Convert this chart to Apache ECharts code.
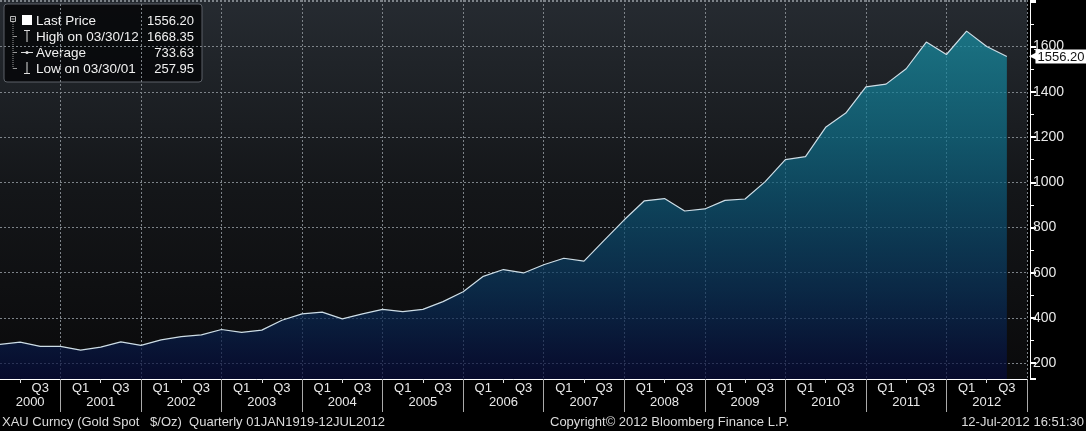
<!DOCTYPE html>
<html><head><meta charset="utf-8">
<script src="https://cdn.jsdelivr.net/npm/echarts@6/dist/echarts.min.js"></script>
<style>html,body{margin:0;padding:0;background:#000;}#c{width:1086px;height:431px;}</style>
</head><body><div id="c"></div>
<script>
const quarters = [
'2000 Q1','2000 Q2','2000 Q3','2000 Q4',
'2001 Q1','2001 Q2','2001 Q3','2001 Q4',
'2002 Q1','2002 Q2','2002 Q3','2002 Q4',
'2003 Q1','2003 Q2','2003 Q3','2003 Q4',
'2004 Q1','2004 Q2','2004 Q3','2004 Q4',
'2005 Q1','2005 Q2','2005 Q3','2005 Q4',
'2006 Q1','2006 Q2','2006 Q3','2006 Q4',
'2007 Q1','2007 Q2','2007 Q3','2007 Q4',
'2008 Q1','2008 Q2','2008 Q3','2008 Q4',
'2009 Q1','2009 Q2','2009 Q3','2009 Q4',
'2010 Q1','2010 Q2','2010 Q3','2010 Q4',
'2011 Q1','2011 Q2','2011 Q3','2011 Q4',
'2012 Q1','2012 Q2','2012 Q3','2012 Q4'];
const prices = [
283, 293, 274, 274,
257.95, 271, 294, 279,
303, 317, 325, 349,
336, 346, 390, 418,
426, 396, 418, 438,
428, 438, 472, 516,
584, 614, 599, 635,
664, 651, 743, 834,
918, 928, 873, 882,
920, 926, 1003, 1100,
1113, 1243, 1306, 1422,
1434, 1502, 1620, 1565,
1668.35, 1600, 1556.2, null];
const yMin = 130, yMax = 1806;
const yLabelMax = 1600;
const legendLabels = ['Last Price', 'High on 03/30/12', 'Average', 'Low on 03/30/01'];
const legendValues = ['1556.20', '1668.35', '733.63', '257.95'];
const footerLeft = 'XAU Curncy (Gold Spot   $/Oz)  Quarterly 01JAN1919-12JUL2012';
const footerMid = 'Copyright\u00a9 2012 Bloomberg Finance L.P.';
const footerRight = '12-Jul-2012 16:51:30';

const lastPrice = prices.filter(v => v != null).slice(-1)[0];
const FONT = 'Liberation Sans, Arial, sans-serif';
const TXT = '#e8e8e8';

const chart = echarts.init(document.getElementById('c'), null, {renderer: 'canvas'});

const legendChildren = [
  {type: 'rect', shape: {x: 4, y: 4, width: 198, height: 78, r: 3},
   style: {fill: 'rgba(8,9,11,0.92)', stroke: '#5c6168', lineWidth: 1}},
  {type: 'rect', shape: {x: 10.5, y: 16.5, width: 5, height: 5}, style: {fill: 'none', stroke: '#bbb', lineWidth: 1}},
  {type: 'line', shape: {x1: 11.5, y1: 19, x2: 14.5, y2: 19}, style: {stroke: '#bbb', lineWidth: 1}},
  {type: 'line', shape: {x1: 13, y1: 22, x2: 13, y2: 68.5}, style: {stroke: '#999', lineWidth: 1, lineDash: [1, 1]}},
  {type: 'line', shape: {x1: 13, y1: 36.5, x2: 17, y2: 36.5}, style: {stroke: '#999', lineWidth: 1}},
  {type: 'line', shape: {x1: 13, y1: 52.5, x2: 17, y2: 52.5}, style: {stroke: '#999', lineWidth: 1}},
  {type: 'line', shape: {x1: 13, y1: 68.5, x2: 17, y2: 68.5}, style: {stroke: '#999', lineWidth: 1}},
  {type: 'rect', shape: {x: 22, y: 15, width: 10, height: 10}, style: {fill: '#fff'}},
  {type: 'line', shape: {x1: 24, y1: 30.5, x2: 30, y2: 30.5}, style: {stroke: '#ddd', lineWidth: 1}},
  {type: 'line', shape: {x1: 27, y1: 30.5, x2: 27, y2: 42}, style: {stroke: '#ddd', lineWidth: 1}},
  {type: 'line', shape: {x1: 21, y1: 52.5, x2: 33, y2: 52.5}, style: {stroke: '#ddd', lineWidth: 1}},
  {type: 'circle', shape: {cx: 27, cy: 52.5, r: 1.6}, style: {fill: '#ddd'}},
  {type: 'line', shape: {x1: 27, y1: 62, x2: 27, y2: 73.5}, style: {stroke: '#ddd', lineWidth: 1}},
  {type: 'line', shape: {x1: 24, y1: 73.5, x2: 30, y2: 73.5}, style: {stroke: '#ddd', lineWidth: 1}}
];
legendLabels.forEach((t, i) => {
  legendChildren.push({type: 'text', x: 36, y: 21 + 16 * i,
    style: {text: t, fill: '#f0f0f0', font: '13.5px ' + FONT, textVerticalAlign: 'middle'}});
  legendChildren.push({type: 'text', x: 194, y: 21 + 16 * i,
    style: {text: legendValues[i], fill: '#f0f0f0', font: '13px ' + FONT, textAlign: 'right', textVerticalAlign: 'middle'}});
});

const option = {
  backgroundColor: '#000',
  animation: false,
  grid: {left: 0, right: 59, top: 0, bottom: 52, show: true, borderWidth: 0,
    backgroundColor: new echarts.graphic.LinearGradient(0, 0, 0, 1, [
      {offset: 0, color: '#262b31'}, {offset: 0.5, color: '#141619'}, {offset: 1, color: '#0a0a0b'}])},
  xAxis: [
    {type: 'category', data: quarters, boundaryGap: false, position: 'bottom',
     axisLine: {show: true, lineStyle: {color: '#ffffff', width: 1}},
     axisTick: {show: true, length: 4, interval: (i, v) => v.endsWith('Q2'), lineStyle: {color: '#dddddd'}},
     axisLabel: {show: true, interval: (i, v) => i > 0 && (v.endsWith('Q1') || v.endsWith('Q3')),
       formatter: v => v.slice(5), color: TXT, fontSize: 13, fontFamily: FONT, margin: 3},
     splitLine: {show: false}},
    {type: 'category', data: quarters, boundaryGap: false, position: 'bottom',
     axisLine: {show: false},
     axisTick: {show: true, length: 33, interval: (i, v) => v.endsWith('Q4'), lineStyle: {color: '#aaaaaa'}},
     axisLabel: {show: true, interval: (i, v) => v.endsWith('Q2'),
       formatter: v => v.startsWith('2000') ? '{s|' + v.slice(0, 4) + '}' : v.slice(0, 4),
       rich: {s: {padding: [0, 0, 0, 20], color: TXT, fontSize: 13, fontFamily: FONT}},
       color: TXT, fontSize: 13, fontFamily: FONT, margin: 17},
     splitLine: {show: true, interval: (i, v) => v.endsWith('Q4'),
       lineStyle: {color: '#7d8389', width: 1, type: [2, 2]}}}
  ],
  yAxis: {type: 'value', position: 'right', min: yMin, max: yMax, splitNumber: 8, offset: 3,
    axisLine: {show: true, lineStyle: {color: '#ffffff', width: 1}},
    axisTick: {show: true, length: 6, lineStyle: {color: '#ffffff', width: 2}},
    minorTick: {show: true, splitNumber: 2, length: 4, lineStyle: {color: '#ffffff', width: 1}},
    minorSplitLine: {show: false},
    axisLabel: {color: TXT, fontSize: 14, fontFamily: FONT, margin: 3, showMinLabel: false, showMaxLabel: false,
      formatter: v => (v > yLabelMax ? '' : String(v))},
    splitLine: {show: true, lineStyle: {color: '#7d8389', width: 1, type: [2, 2]}}},
  series: [{
    type: 'line', data: prices, xAxisIndex: 0, symbol: 'none', showSymbol: false, connectNulls: false,
    lineStyle: {color: '#cddde6', width: 1.2},
    areaStyle: {color: new echarts.graphic.LinearGradient(0, 0, 0, 1, [
      {offset: 0, color: '#1792a7'}, {offset: 0.3, color: '#0f718c'}, {offset: 0.5, color: '#0b5576'},
      {offset: 0.75, color: '#09325b'}, {offset: 1, color: '#060a3a'}])},
    markLine: {silent: true, symbol: ['none', 'none'],
      lineStyle: {color: 'rgba(0,0,0,0)', width: 0, type: 'solid'},
      data: [{yAxis: lastPrice}],
      label: {show: true, position: 'end', distance: 2, opacity: 1,
        formatter: '{a|\u25C0}{b|' + lastPrice.toFixed(2) + '}',
        rich: {a: {color: '#ffffff', fontSize: 11, fontFamily: 'DejaVu Sans', padding: [0, -2, 0, 0]},
               b: {backgroundColor: '#ffffff', color: '#111111', fontSize: 13, fontFamily: FONT,
                   padding: [1, 2, 0, 2], lineHeight: 13}}}}
  }],
  graphic: [
    {type: 'group', children: legendChildren},
    {type: 'text', x: 2, y: 422, style: {text: footerLeft, fill: '#dcdcdc', font: '13px ' + FONT, textVerticalAlign: 'middle'}},
    {type: 'text', x: 550, y: 422, style: {text: footerMid, fill: '#dcdcdc', font: '13px ' + FONT, textVerticalAlign: 'middle'}},
    {type: 'text', x: 1084, y: 422, style: {text: footerRight, fill: '#dcdcdc', font: '13px ' + FONT, textAlign: 'right', textVerticalAlign: 'middle'}}
  ]
};
chart.setOption(option);
</script></body></html>
